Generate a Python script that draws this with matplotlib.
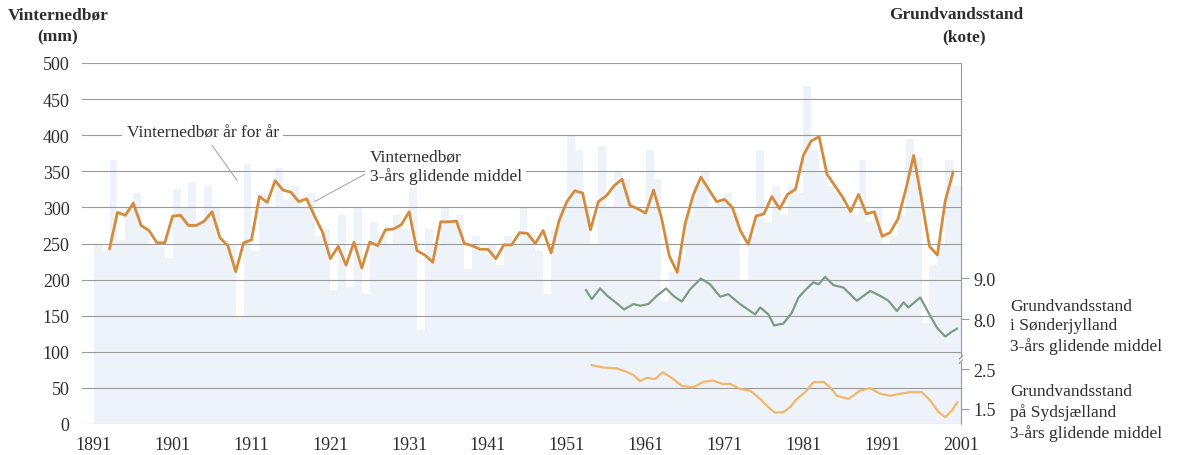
import numpy as np
import matplotlib
matplotlib.use("Agg")
import matplotlib.pyplot as plt
import matplotlib.transforms as mtransforms

plt.rcParams['font.family'] = ['Liberation Serif', 'DejaVu Serif']

# vinternedbør, år for år (mm)
aar = np.arange(1891, 2001)
nedboer = [250, 240, 365, 255, 300, 320, 270, 250, 245, 230,
           325, 300, 335, 280, 330, 300, 250, 250, 150, 360,
           240, 320, 300, 355, 310, 330, 300, 320, 260, 270,
           185, 290, 190, 300, 180, 280, 260, 250, 290, 270,
           330, 130, 270, 250, 300, 280, 290, 215, 260, 240,
           250, 220, 260, 250, 300, 260, 240, 180, 270, 300,
           400, 380, 300, 250, 385, 300, 350, 340, 300, 290,
           380, 340, 170, 210, 230, 290, 330, 350, 300, 310,
           320, 290, 200, 260, 380, 280, 330, 290, 330, 320,
           468, 380, 350, 330, 320, 300, 290, 365, 280, 300,
           250, 260, 290, 395, 370, 140, 220, 250, 365, 330]

# 3-års glidende middel (mm)
aar_middel = np.arange(1893, 2001)
nedboer_middel = [243, 293, 289, 306, 275, 268, 251, 251, 288, 289,
                  275, 275, 281, 294, 258, 247, 211, 251, 255, 315,
                  307, 337, 324, 321, 308, 312, 288, 266, 229, 246,
                  220, 252, 216, 252, 247, 269, 270, 276, 294, 240,
                  234, 224, 280, 280, 281, 250, 247, 242, 242, 229,
                  248, 248, 265, 264, 250, 268, 237, 281, 308, 323,
                  320, 269, 308, 316, 330, 339, 303, 298, 292, 324,
                  286, 233, 210, 277, 316, 342, 325, 308, 311, 300,
                  268, 249, 288, 291, 315, 298, 318, 325, 372, 392,
                  398, 346, 330, 314, 294, 318, 291, 294, 260, 265,
                  284, 325, 372, 311, 246, 234, 309, 349]

# grundvandsstand i Sønderjylland (kote)
t_sj = [1953.44, 1954.16, 1955.21, 1956.14, 1957.33, 1958.26, 1959.44, 1960.30,
        1961.34, 1962.41, 1963.59, 1964.52, 1965.58, 1966.64, 1968.00, 1969.17,
        1970.44, 1971.49, 1972.98, 1974.88, 1975.52, 1976.57, 1977.29, 1978.48,
        1979.54, 1980.38, 1981.45, 1982.28, 1982.92, 1983.77, 1984.82, 1986.09,
        1987.79, 1989.48, 1990.75, 1991.80, 1992.87, 1993.71, 1994.34, 1995.83,
        1996.88, 1997.94, 1999.00, 1999.85, 2000.48]
kote_sj = [8.71, 8.49, 8.75, 8.57, 8.39, 8.24, 8.37, 8.33,
           8.37, 8.57, 8.75, 8.57, 8.43, 8.73, 8.99, 8.85,
           8.55, 8.61, 8.37, 8.12, 8.29, 8.12, 7.85, 7.90,
           8.16, 8.53, 8.75, 8.90, 8.85, 9.03, 8.83, 8.77,
           8.45, 8.69, 8.57, 8.45, 8.20, 8.41, 8.29, 8.53,
           8.16, 7.80, 7.58, 7.70, 7.77]

# grundvandsstand på Sydsjælland (kote)
t_sy = [1954.16, 1955.63, 1957.33, 1958.60, 1959.44, 1960.29, 1961.14, 1962.19,
        1963.17, 1964.31, 1965.58, 1967.05, 1968.32, 1969.59, 1970.66, 1971.71,
        1972.98, 1974.25, 1975.52, 1976.57, 1977.42, 1978.48, 1979.32, 1980.18,
        1981.23, 1982.28, 1983.55, 1984.40, 1985.25, 1986.72, 1988.21, 1989.48,
        1990.75, 1992.02, 1993.29, 1994.56, 1996.04, 1997.09, 1998.15, 1999.00,
        1999.85, 2000.55]
kote_sy = [2.60, 2.54, 2.52, 2.43, 2.35, 2.20, 2.28, 2.25,
           2.42, 2.28, 2.08, 2.04, 2.18, 2.21, 2.13, 2.13,
           2.00, 1.96, 1.75, 1.54, 1.40, 1.42, 1.54, 1.75,
           1.92, 2.17, 2.18, 2.04, 1.83, 1.75, 1.96, 2.02,
           1.88, 1.83, 1.88, 1.92, 1.92, 1.71, 1.42, 1.29,
           1.46, 1.67]

x_ticks = np.arange(1891, 2002, 10)
y_ticks = np.arange(0, 501, 50)

tekst = '#2e2e2e'
grid = '#9a9a9a'

fig = plt.figure(figsize=(11.77, 4.56), dpi=100)
ax = fig.add_axes([82 / 1177, 1 - 425 / 456, (961 - 82) / 1177, (425 - 64) / 456])

ax.bar(aar, nedboer, width=1.0, align='edge', color='#edf3f8', zorder=1)
for v in y_ticks:
    ax.axhline(v, color=grid, lw=0.8, zorder=2)
ax.plot(aar_middel, nedboer_middel, color='#d48c3c', lw=2.0, zorder=4)

ax.set_xlim(1889.5, 2001)
ax.set_ylim(0, 500)
ax.set_xticks(x_ticks)
ax.set_yticks(y_ticks)
ax.tick_params(axis='both', length=0, labelsize=13, colors=tekst)
ax.tick_params(axis='x', pad=9)
ax.tick_params(axis='y', pad=9)
for s in ax.spines.values():
    s.set_visible(False)

# højre akse med brud
trans = mtransforms.blended_transform_factory(ax.transAxes, ax.transData)
ax.plot([1, 1], [500, 93], color=grid, lw=0.8, transform=trans, clip_on=False)
ax.plot([1, 1], [86, 0], color=grid, lw=0.8, transform=trans, clip_on=False)
ax.plot([0.998, 1.002], [90, 95], color=grid, lw=0.8, transform=trans, clip_on=False)
ax.plot([0.998, 1.002], [84, 89], color=grid, lw=0.8, transform=trans, clip_on=False)


def kote_lim(k1, mm1, k2, mm2):
    s = (k2 - k1) / (mm2 - mm1)
    return k1 - mm1 * s, k1 + (500 - mm1) * s


ax_sj = ax.twinx()
ax_sj.set_ylim(*kote_lim(8.0, 145, 9.0, 202))
ax_sj.plot(t_sj, kote_sj, color='#7f9b84', lw=1.6, zorder=4)
ax_sj.set_yticks([8.0, 9.0])

ax_sy = ax.twinx()
ax_sy.set_ylim(*kote_lim(1.5, 21, 2.5, 76))
ax_sy.plot(t_sy, kote_sy, color='#f2b66c', lw=1.6, zorder=4)
ax_sy.set_yticks([1.5, 2.5])

for a in (ax_sj, ax_sy):
    a.yaxis.set_major_formatter(matplotlib.ticker.FormatStrFormatter('%.1f'))
    a.tick_params(axis='y', length=6, width=0.8, color=grid, pad=3,
                  labelsize=13, labelcolor=tekst)
    for s in a.spines.values():
        s.set_visible(False)

# akse-titler
fig.text(58 / 1177, 1 - 15 / 456, 'Vinternedbør', ha='center', va='center',
         fontsize=12.5, fontweight='bold', color=tekst)
fig.text(58 / 1177, 1 - 37 / 456, '(mm)', ha='center', va='center',
         fontsize=12.5, fontweight='bold', color=tekst)
fig.text(956 / 1177, 1 - 15 / 456, 'Grundvandsstand', ha='center', va='center',
         fontsize=12.5, fontweight='bold', color=tekst)
fig.text(964 / 1177, 1 - 37 / 456, '(kote)', ha='center', va='center',
         fontsize=12.5, fontweight='bold', color=tekst)

# forklaringer
boks = dict(boxstyle='square,pad=0.25', fc='white', ec='none')
leder = dict(arrowstyle='-', color='#a0a0a0', lw=0.7, shrinkA=0, shrinkB=0)
ax.annotate('Vinternedbør år for år', xy=(1909.2, 337), xytext=(1904.8, 404),
            ha='center', va='center', fontsize=12.5, color=tekst,
            bbox=boks, arrowprops=leder, zorder=5)
ax.annotate('Vinternedbør\n3-års glidende middel', xy=(1919.0, 308),
            xytext=(1926.0, 357), ha='left', va='center', fontsize=12.5,
            color=tekst, linespacing=1.2, bbox=boks,
            arrowprops=dict(leder, relpos=(0, 0.35)), zorder=5)

fig.text(1010 / 1177, 1 - 327 / 456,
         'Grundvandsstand\ni Sønderjylland\n3-års glidende middel',
         ha='left', va='center', fontsize=12.5, color=tekst, linespacing=1.32)
fig.text(1010 / 1177, 1 - 413 / 456,
         'Grundvandsstand\npå Sydsjælland\n3-års glidende middel',
         ha='left', va='center', fontsize=12.5, color=tekst, linespacing=1.32)

fig.savefig('out.png', dpi=100)
